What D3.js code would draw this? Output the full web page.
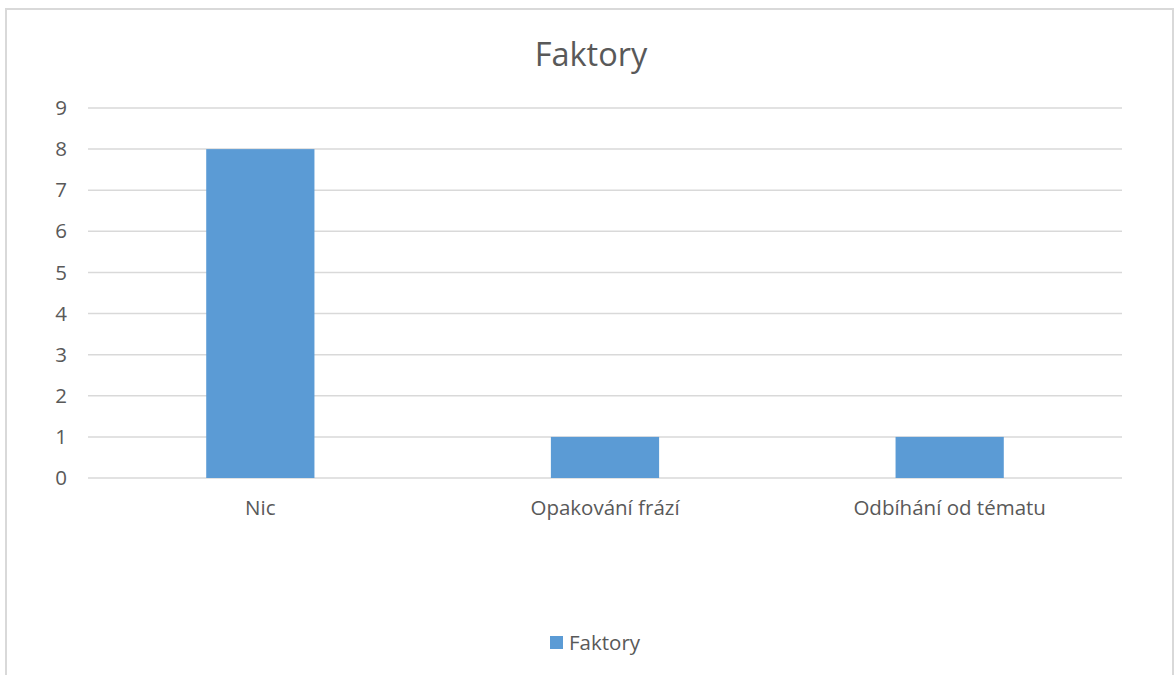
<!DOCTYPE html>
<html>
<head>
<meta charset="utf-8">
<script src="https://cdn.jsdelivr.net/npm/d3@7"></script>
<style>
  body { margin: 0; background: #fff; }
  svg { display: block; font-family: "Open Sans", Lato, sans-serif; }
</style>
</head>
<body>
<svg id="chart"></svg>
<script>
// chart data
const categories = ["Nic", "Opakování frází", "Odbíhání od tématu"];
const values = [8, 1, 1];
const yTicks = [0, 1, 2, 3, 4, 5, 6, 7, 8, 9];
const seriesName = "Faktory";
const chartTitle = "Faktory";

const width = 1175, height = 675;
const margin = {top: 108, right: 53, bottom: 197, left: 88};
const labelSize = "20.5px";

const svg = d3.select("#chart").attr("width", width).attr("height", height);

// outer frame of the chart area
svg.append("rect")
    .attr("x", 6).attr("y", 9)
    .attr("width", 1167).attr("height", 700)
    .attr("fill", "#fff")
    .attr("stroke", "#d9d9d9")
    .attr("stroke-width", 2);

const innerW = width - margin.left - margin.right;
const innerH = height - margin.top - margin.bottom;

const x = d3.scaleBand().domain(categories).range([0, innerW])
    .paddingInner(0.686).paddingOuter(0.343);
const y = d3.scaleLinear().domain([0, 9]).range([innerH, 0]);

const g = svg.append("g").attr("transform", `translate(${margin.left},${margin.top})`);

// gridlines
g.selectAll(".grid")
    .data(yTicks)
    .join("line")
    .attr("class", "grid")
    .attr("x1", 0).attr("x2", innerW)
    .attr("y1", d => y(d)).attr("y2", d => y(d))
    .attr("stroke", "#d9d9d9")
    .attr("stroke-width", 1.5);

// y axis labels
const yAxis = d3.axisLeft(y).tickValues(yTicks).tickSize(0).tickPadding(21);
g.append("g").call(yAxis)
    .call(a => a.select(".domain").remove())
    .selectAll("text")
    .attr("fill", "#595959")
    .style("font-size", labelSize)
    .style("font-family", "'Open Sans', Lato, sans-serif");

// bars
g.selectAll(".bar")
    .data(values)
    .join("rect")
    .attr("class", "bar")
    .attr("x", (d, i) => x(categories[i]))
    .attr("y", d => y(d))
    .attr("width", x.bandwidth())
    .attr("height", d => innerH - y(d))
    .attr("fill", "#5b9bd5");

// x axis labels
const xAxis = d3.axisBottom(x).tickSize(0).tickPadding(22);
g.append("g").attr("transform", `translate(0,${innerH})`).call(xAxis)
    .call(a => a.select(".domain").remove())
    .selectAll("text")
    .attr("fill", "#595959")
    .style("font-size", labelSize)
    .style("font-family", "'Open Sans', Lato, sans-serif");

// title, centred on the whole frame
svg.append("text")
    .attr("x", 591)
    .attr("y", 66)
    .attr("text-anchor", "middle")
    .attr("fill", "#595959")
    .style("font-size", "32.5px")
    .text(chartTitle);

// legend
const legend = svg.append("g").attr("transform", "translate(550,643)");
legend.append("rect")
    .attr("x", 0).attr("y", -7)
    .attr("width", 13).attr("height", 13)
    .attr("fill", "#5b9bd5");
legend.append("text")
    .attr("x", 19).attr("y", 7)
    .attr("fill", "#595959")
    .style("font-size", labelSize)
    .text(seriesName);
</script>
</body>
</html>
